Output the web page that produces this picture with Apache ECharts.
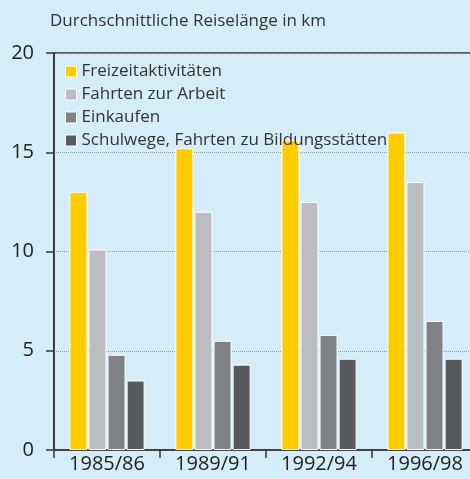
<!DOCTYPE html>
<html>
<head>
<meta charset="utf-8">
<script src="https://cdn.jsdelivr.net/npm/echarts@6/dist/echarts.min.js"></script>
<style>
  html, body { margin: 0; padding: 0; background: #d5edf9; overflow: hidden; }
  #chart { width: 478px; height: 479px; }
</style>
</head>
<body>
<div id="chart"></div>
<script>
var categories = ['1985/86', '1989/91', '1992/94', '1996/98'];
var freizeit = [13.0, 15.2, 15.6, 16.0];
var arbeit = [10.1, 12.0, 12.5, 13.5];
var einkaufen = [4.8, 5.5, 5.8, 6.5];
var schule = [3.5, 4.3, 4.6, 4.6];
var seriesNames = ['Freizeitaktivitäten', 'Fahrten zur Arbeit', 'Einkaufen', 'Schulwege, Fahrten zu Bildungsstätten'];

var chart = echarts.init(document.getElementById('chart'));
var font = 'Open Sans';

function bar(name, data, color) {
  return {
    name: name,
    type: 'bar',
    data: data,
    barWidth: 18,
    barGap: '6%',
    itemStyle: { color: color, borderColor: '#ffffff', borderWidth: 1 }
  };
}

var option = {
  backgroundColor: '#d5edf9',
  title: {
    text: 'Durchschnittliche Reiselänge in km',
    left: 45,
    top: 8,
    textStyle: { fontFamily: font, fontSize: 17, fontWeight: 'normal', color: '#333' }
  },
  legend: {
    orient: 'vertical',
    left: 60,
    top: 58,
    itemWidth: 11,
    itemHeight: 11,
    itemGap: 6,
    icon: 'rect',
    itemStyle: { borderColor: '#ffffff', borderWidth: 1 },
    textStyle: { fontFamily: font, fontSize: 17, color: '#333' },
    data: seriesNames
  },
  grid: {
    left: 54, top: 53, bottom: 29, right: 0,
    show: true, borderColor: '#333', borderWidth: 1.5,
    backgroundColor: 'transparent'
  },
  xAxis: {
    type: 'category',
    data: categories,
    axisLine: { lineStyle: { color: '#333', width: 1.5 } },
    axisTick: { show: true, length: 8, lineStyle: { color: '#333', width: 1.5 } },
    axisLabel: { fontFamily: font, fontSize: 20, color: '#222', margin: 4 }
  },
  yAxis: {
    type: 'value',
    min: 0,
    max: 20,
    interval: 5,
    axisLine: { show: true, lineStyle: { color: '#333', width: 1.5 } },
    axisTick: { show: true, length: 8, lineStyle: { color: '#333', width: 1.5 } },
    axisLabel: { fontFamily: font, fontSize: 20, color: '#222', margin: 20 },
    splitLine: { show: true, lineStyle: { color: '#999', type: 'dotted', width: 1 } }
  },
  series: [
    bar(seriesNames[0], freizeit, '#ffcc00'),
    bar(seriesNames[1], arbeit, '#bcbdc0'),
    bar(seriesNames[2], einkaufen, '#808285'),
    bar(seriesNames[3], schule, '#58595b')
  ]
};
option && chart.setOption(option);
</script>
</body>
</html>
